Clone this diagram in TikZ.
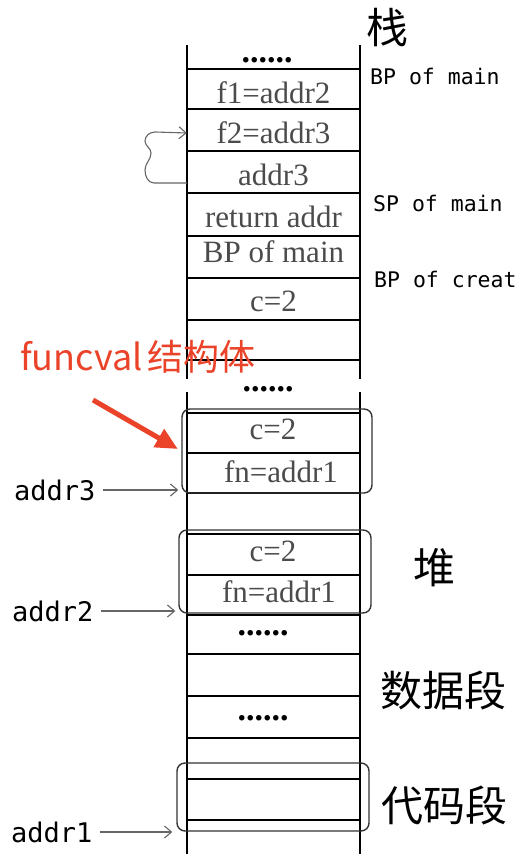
\documentclass[tikz,border=0pt]{standalone}
\usepackage{fontspec}
\setmainfont{Liberation Serif}
\newfontfamily\cjk{Noto Sans CJK SC}
\newfontfamily\hand{DejaVu Sans Mono}
\usetikzlibrary{arrows.meta}
\definecolor{celltext}{RGB}{75,75,75}
\definecolor{notered}{RGB}{234,67,41}
\tikzset{
  cell/.style={minimum width=173pt, inner sep=0pt, text=celltext, font=\fontsize{31}{33}\selectfont},
  dotcell/.style={inner sep=0pt, text height=5pt, text depth=0pt, font=\fontsize{34}{36}\selectfont\bfseries},
  side/.style={anchor=west, inner sep=0pt, font=\hand\fontsize{21.5}{24}\selectfont},
  addr/.style={anchor=west, inner sep=0pt, font=\hand\fontsize{27}{30}\selectfont},
  seg/.style={inner sep=0pt, font=\cjk\fontsize{42}{44}\selectfont},
  wall/.style={line width=2pt},
  fvbox/.style={draw=black!80, line width=1.4pt, rounded corners=8pt, inner sep=0pt},
  ptr/.style={draw=black!60, line width=1.1pt, -{Straight Barb[length=7pt,width=12pt]}},
}
\begin{document}
\begin{tikzpicture}[x=1pt,y=-1pt]
    \useasboundingbox (0,0) rectangle (522,854);

    \draw[wall] (187,45) -- (187,379);
    \draw[wall] (360,45) -- (360,379);
    \draw[wall] (187,392) -- (187,854);
    \draw[wall] (360,392) -- (360,854);

    \draw[wall] (187,69) -- (360,69);
    \draw[wall] (187,109) -- (360,109);
    \draw[wall] (187,151) -- (360,151);
    \draw[wall] (187,193) -- (360,193);
    \draw[wall] (187,236) -- (360,236);
    \draw[wall] (187,278) -- (360,278);
    \draw[wall] (187,320) -- (360,320);
    \draw[wall] (187,360) -- (360,360);
    \draw[wall] (187,413) -- (360,413);
    \draw[wall] (187,453) -- (360,453);
    \draw[wall] (187,493) -- (360,493);
    \draw[wall] (187,534) -- (360,534);
    \draw[wall] (187,575) -- (360,575);
    \draw[wall] (187,615) -- (360,615);
    \draw[wall] (187,654) -- (360,654);
    \draw[wall] (187,696) -- (360,696);
    \draw[wall] (187,738) -- (360,738);
    \draw[wall] (187,779) -- (360,779);
    \draw[wall] (187,820) -- (360,820);

    % stack frame
    \node[dotcell] (dtop) at (267,60) {......};
    \node[cell] (f1) at (273.5,93) {f1=addr2};
    \node[cell] (f2) at (273.5,133) {f2=addr3};
    \node[cell] (a3c) at (273.5,175) {addr3};
    \node[cell] (ret) at (273.5,217) {return addr};
    \node[cell] (bpm) at (273.5,252) {BP of main};
    \node[cell] (c0) at (273.5,301) {c=2};

    % heap
    \node[dotcell] (dheap) at (268,389) {......};
    \node[cell] (c1) at (273,429) {c=2};
    \node[cell, minimum width=0pt] (fn1) at (281,472) {fn=addr1};
    \node[cell] (c2) at (273,551) {c=2};
    \node[cell, minimum width=0pt] (fn2) at (279,592) {fn=addr1};
    \node[dotcell] (ddata) at (263,633) {......};
    \node[dotcell] (dcode) at (263,718) {......};

    \node[fvbox, minimum width=190pt, minimum height=84pt] (fv1) at (277,451) {};
    \node[fvbox, minimum width=192pt, minimum height=83pt] (fv2) at (275,571.5) {};
    \node[fvbox, minimum width=192pt, minimum height=68pt] (fv3) at (273,797) {};

    \coordinate (brk) at (187,183);
    \draw[ptr] (brk) -- (154,183) to[out=180,in=-90] (145,170) to[out=90,in=-90] (151,153)
        to[out=90,in=-90] (145,141) to[out=90,in=180] (155,132) -- (f2.west);

    \node[seg] (zhan) at (387,28) {栈};
    \node[side] (bpmain) at (370,76) {BP of main};
    \node[side] (spmain) at (373,203) {SP of main};
    \node[side] (bpcreat) at (374,279) {BP of creat};
    \node[seg] (dui) at (434,568) {堆};
    \node[seg, anchor=west] (data) at (380,690) {数据段};
    \node[seg, anchor=west] (code) at (381,805) {代码段};

    \node[addr] (a3) at (14,490) {addr3};
    \node[addr] (a2) at (12,611) {addr2};
    \node[addr] (a1) at (11,832) {addr1};
    \draw[ptr, shorten >=3pt] ([xshift=7pt]a3.east) -- (a3 -| fv1.west);
    \draw[ptr, shorten >=3pt] ([xshift=7pt]a2.east) -- (a2 -| fv2.west);
    \draw[ptr, shorten >=4pt] ([xshift=7pt]a1.east) -- (a1 -| fv3.west);

    \node[anchor=west, inner sep=0pt, text=notered, font=\cjk\fontsize{36}{38}\selectfont] (fvname) at (20,357) {funcval\hspace{5pt}结构体};
    \coordinate (tail) at (93,400);
    \draw[notered, line width=5pt, -{Triangle[length=22pt,width=20pt]}, shorten >=4pt] (tail) -- (fv1.west);
\end{tikzpicture}
\end{document}
